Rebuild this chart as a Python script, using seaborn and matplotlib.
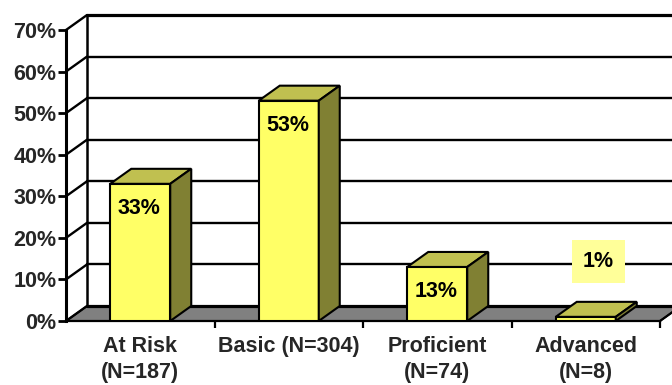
import matplotlib
matplotlib.use("Agg")
import matplotlib.pyplot as plt
from matplotlib.patches import Polygon
from matplotlib.lines import Line2D
from matplotlib.transforms import ScaledTranslation
import seaborn as sns
import pandas as pd

# Achievement levels and share of students in each
levels = ["At Risk\n(N=187)", "Basic (N=304)", "Proficient\n(N=74)", "Advanced\n(N=8)"]
shares = [0.33, 0.53, 0.13, 0.01]
y_ticks = [0.0, 0.1, 0.2, 0.3, 0.4, 0.5, 0.6, 0.7]
y_tick_labels = ["0%", "10%", "20%", "30%", "40%", "50%", "60%", "70%"]

FRONT = "#FFFF66"
TOP = "#C0C050"
SIDE = "#808033"
FLOOR = "#808080"
DEPTH_X, DEPTH_Y = 21, 15  # pixel offset of the back plane
FS = 15.5

sns.set_theme(style="white")
plt.rcParams["font.family"] = ["Liberation Sans", "DejaVu Sans"]
plt.rcParams["font.weight"] = "bold"

W, H, DPI = 672, 385, 100
fig = plt.figure(figsize=(W / DPI, H / DPI), dpi=DPI)
fig.patch.set_facecolor("white")
ax = fig.add_axes([66 / W, 64 / H, 594 / W, 291 / H])
ax.set_facecolor("none")

df = pd.DataFrame({"level": levels, "share": shares})
sns.barplot(data=df, x="level", y="share", color=FRONT, saturation=1,
            width=60 / 148.5, edgecolor="black", linewidth=1.5, ax=ax, zorder=5)
ax.set_xlim(-0.5, 3.5)
ax.set_ylim(0, 0.70)
ax.set_xlabel("")
ax.set_ylabel("")

back = ax.transData + ScaledTranslation(DEPTH_X / DPI, DEPTH_Y / DPI, fig.dpi_scale_trans)
to_px = ax.transData.transform

# floor
x_left, x_right = -0.5, 3.5
fl0 = to_px((x_left, 0))
fl1 = to_px((x_right, 0))
floor = Polygon([fl0, fl1, (fl1[0] + DEPTH_X, fl1[1] + DEPTH_Y),
                 (fl0[0] + DEPTH_X, fl0[1] + DEPTH_Y)],
                closed=True, facecolor=FLOOR, edgecolor="black", linewidth=1.2,
                transform=None, zorder=1)
fig.patches.append(floor)

# back wall gridlines and side-wall diagonals
for v in y_ticks:
    lw = 2.3 if v in (0.0, 0.7) else 1.7
    ax.add_line(Line2D([x_left, x_right + 0.2], [v, v], color="black", lw=lw,
                       transform=back, clip_on=False, zorder=2))
    p = to_px((x_left, v))
    fig.lines.append(Line2D([p[0], p[0] + DEPTH_X], [p[1], p[1] + DEPTH_Y],
                            color="black", lw=1.7, transform=None, zorder=2))
# back wall left edge
ax.add_line(Line2D([x_left, x_left], [0, 0.7], color="black", lw=1.8,
                   transform=back, clip_on=False, zorder=2))
# right edge of the floor
fig.lines.append(Line2D([fl1[0], fl1[0] + DEPTH_X], [fl1[1], fl1[1] + DEPTH_Y],
                        color="black", lw=1.6, transform=None, zorder=2))

# top and side faces of each bar
for patch in ax.patches:
    x0, y0 = patch.get_x(), patch.get_y()
    x1, y1 = x0 + patch.get_width(), y0 + patch.get_height()
    a = to_px((x0, y1))
    b = to_px((x1, y1))
    c = to_px((x1, y0))
    top = Polygon([a, b, (b[0] + DEPTH_X, b[1] + DEPTH_Y), (a[0] + DEPTH_X, a[1] + DEPTH_Y)],
                  closed=True, facecolor=TOP, edgecolor="black", linewidth=1.5,
                  transform=None, zorder=3)
    side = Polygon([c, b, (b[0] + DEPTH_X, b[1] + DEPTH_Y), (c[0] + DEPTH_X, c[1] + DEPTH_Y)],
                   closed=True, facecolor=SIDE, edgecolor="black", linewidth=1.5,
                   transform=None, zorder=3)
    fig.patches.append(top)
    fig.patches.append(side)
for patch in ax.patches:
    patch.set_zorder(5)
ax.set_zorder(3)

# value labels
for i, v in enumerate(shares):
    txt = f"{round(v * 100)}%"
    if v >= 0.05:
        ax.annotate(txt, (i, v), xytext=(-1, -18), textcoords="offset points",
                    ha="center", va="center", fontsize=FS, fontweight="bold",
                    color="black", zorder=7)
    else:
        ax.annotate(txt, (i, v), xytext=(9, 40), textcoords="offset points",
                    ha="center", va="center", fontsize=FS, fontweight="bold",
                    color="black", zorder=7,
                    bbox=dict(boxstyle="square,pad=0.5", facecolor="#FFFF99",
                              edgecolor="none"))

# axes styling
for s in ("top", "right"):
    ax.spines[s].set_visible(False)
ax.spines["left"].set_linewidth(2.2)
ax.spines["left"].set_color("black")
ax.spines["bottom"].set_linewidth(1.6)
ax.spines["bottom"].set_color("black")
ax.spines["left"].set_zorder(6)
ax.set_yticks(y_ticks)
ax.set_yticklabels(y_tick_labels, fontsize=FS, fontweight="bold")
ax.tick_params(axis="y", direction="out", length=6, width=2, color="black",
               pad=1, left=True)
ax.set_xticks(range(len(levels)))
ax.set_xticklabels(levels, fontsize=FS, fontweight="bold", linespacing=1.3)
ax.tick_params(axis="x", which="major", length=0, pad=11)
ax.set_xticks([0.5, 1.5, 2.5, 3.5], minor=True)
ax.tick_params(axis="x", which="minor", direction="out", length=5, width=1.6,
               color="black", bottom=True)

fig.savefig("out.png", dpi=DPI)
